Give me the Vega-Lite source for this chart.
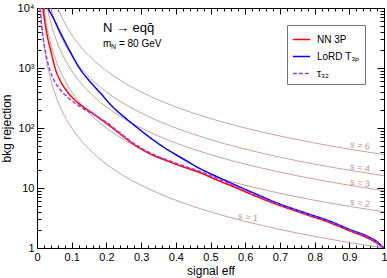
{
  "$schema": "https://vega.github.io/schema/vega-lite/v6.json",
  "width": 347,
  "height": 240,
  "autosize": "none",
  "padding": {"left": 37, "top": 8, "right": 3, "bottom": 30},
  "background": "white",
  "config": {
    "view": {"stroke": "black", "strokeWidth": 1},
    "font": "Liberation Sans",
    "axis": {"grid": false, "domain": false, "tickColor": "black", "tickWidth": 1, "labelFont": "Liberation Sans", "titleFont": "Liberation Sans", "titleFontWeight": "normal", "labelColor": "black", "titleColor": "black", "labelFlush": false, "labelOverlap": false}
  },
  "datasets": {
    "scurves": [
      {"s": 1, "x": 0.01, "r": 10000}, {"s": 1, "x": 0.012, "r": 6944}, {"s": 1, "x": 0.015, "r": 4444}, {"s": 1, "x": 0.02, "r": 2500}, {"s": 1, "x": 0.025, "r": 1600}, {"s": 1, "x": 0.03, "r": 1111}, {"s": 1, "x": 0.04, "r": 625}, {"s": 1, "x": 0.05, "r": 400}, {"s": 1, "x": 0.06, "r": 277.8}, {"s": 1, "x": 0.07, "r": 204.1}, {"s": 1, "x": 0.08, "r": 156.3}, {"s": 1, "x": 0.1, "r": 100}, {"s": 1, "x": 0.12, "r": 69.44}, {"s": 1, "x": 0.15, "r": 44.44}, {"s": 1, "x": 0.2, "r": 25}, {"s": 1, "x": 0.25, "r": 16}, {"s": 1, "x": 0.3, "r": 11.11}, {"s": 1, "x": 0.35, "r": 8.163}, {"s": 1, "x": 0.4, "r": 6.25}, {"s": 1, "x": 0.5, "r": 4}, {"s": 1, "x": 0.6, "r": 2.778}, {"s": 1, "x": 0.7, "r": 2.041}, {"s": 1, "x": 0.8, "r": 1.5625}, {"s": 1, "x": 0.9, "r": 1.235}, {"s": 1, "x": 1, "r": 1},
      {"s": 2, "x": 0.02, "r": 10000}, {"s": 2, "x": 0.024, "r": 6944}, {"s": 2, "x": 0.03, "r": 4444}, {"s": 2, "x": 0.04, "r": 2500}, {"s": 2, "x": 0.05, "r": 1600}, {"s": 2, "x": 0.06, "r": 1111}, {"s": 2, "x": 0.08, "r": 625}, {"s": 2, "x": 0.1, "r": 400}, {"s": 2, "x": 0.12, "r": 277.8}, {"s": 2, "x": 0.14, "r": 204.1}, {"s": 2, "x": 0.16, "r": 156.3}, {"s": 2, "x": 0.2, "r": 100}, {"s": 2, "x": 0.24, "r": 69.44}, {"s": 2, "x": 0.3, "r": 44.44}, {"s": 2, "x": 0.4, "r": 25}, {"s": 2, "x": 0.5, "r": 16}, {"s": 2, "x": 0.6, "r": 11.11}, {"s": 2, "x": 0.7, "r": 8.163}, {"s": 2, "x": 0.8, "r": 6.25}, {"s": 2, "x": 0.9, "r": 4.938}, {"s": 2, "x": 1, "r": 4},
      {"s": 3, "x": 0.03, "r": 10000}, {"s": 3, "x": 0.036, "r": 6944}, {"s": 3, "x": 0.045, "r": 4444}, {"s": 3, "x": 0.06, "r": 2500}, {"s": 3, "x": 0.075, "r": 1600}, {"s": 3, "x": 0.09, "r": 1111}, {"s": 3, "x": 0.12, "r": 625}, {"s": 3, "x": 0.15, "r": 400}, {"s": 3, "x": 0.18, "r": 277.8}, {"s": 3, "x": 0.21, "r": 204.1}, {"s": 3, "x": 0.24, "r": 156.3}, {"s": 3, "x": 0.3, "r": 100}, {"s": 3, "x": 0.36, "r": 69.44}, {"s": 3, "x": 0.45, "r": 44.44}, {"s": 3, "x": 0.525, "r": 32.65}, {"s": 3, "x": 0.6, "r": 25}, {"s": 3, "x": 0.7, "r": 18.37}, {"s": 3, "x": 0.8, "r": 14.06}, {"s": 3, "x": 0.9, "r": 11.11}, {"s": 3, "x": 1, "r": 9},
      {"s": 4, "x": 0.04, "r": 10000}, {"s": 4, "x": 0.048, "r": 6944}, {"s": 4, "x": 0.06, "r": 4444}, {"s": 4, "x": 0.08, "r": 2500}, {"s": 4, "x": 0.1, "r": 1600}, {"s": 4, "x": 0.12, "r": 1111}, {"s": 4, "x": 0.16, "r": 625}, {"s": 4, "x": 0.2, "r": 400}, {"s": 4, "x": 0.24, "r": 277.8}, {"s": 4, "x": 0.28, "r": 204.1}, {"s": 4, "x": 0.32, "r": 156.3}, {"s": 4, "x": 0.4, "r": 100}, {"s": 4, "x": 0.48, "r": 69.44}, {"s": 4, "x": 0.6, "r": 44.44}, {"s": 4, "x": 0.7, "r": 32.65}, {"s": 4, "x": 0.8, "r": 25}, {"s": 4, "x": 0.9, "r": 19.75}, {"s": 4, "x": 1, "r": 16},
      {"s": 6, "x": 0.06, "r": 10000}, {"s": 6, "x": 0.072, "r": 6944}, {"s": 6, "x": 0.09, "r": 4444}, {"s": 6, "x": 0.12, "r": 2500}, {"s": 6, "x": 0.15, "r": 1600}, {"s": 6, "x": 0.18, "r": 1111}, {"s": 6, "x": 0.24, "r": 625}, {"s": 6, "x": 0.3, "r": 400}, {"s": 6, "x": 0.36, "r": 277.8}, {"s": 6, "x": 0.42, "r": 204.1}, {"s": 6, "x": 0.48, "r": 156.3}, {"s": 6, "x": 0.6, "r": 100}, {"s": 6, "x": 0.72, "r": 69.44}, {"s": 6, "x": 0.8, "r": 56.25}, {"s": 6, "x": 0.9, "r": 44.44}, {"s": 6, "x": 1, "r": 36}
    ],
    "curves": [
      {"m": "NN 3P", "x": 0.017, "r": 10000}, {"m": "NN 3P", "x": 0.028, "r": 3800}, {"m": "NN 3P", "x": 0.04, "r": 1900}, {"m": "NN 3P", "x": 0.052, "r": 1000}, {"m": "NN 3P", "x": 0.066, "r": 630}, {"m": "NN 3P", "x": 0.086, "r": 413}, {"m": "NN 3P", "x": 0.119, "r": 260}, {"m": "NN 3P", "x": 0.138, "r": 215}, {"m": "NN 3P", "x": 0.167, "r": 165}, {"m": "NN 3P", "x": 0.185, "r": 138}, {"m": "NN 3P", "x": 0.21, "r": 108}, {"m": "NN 3P", "x": 0.23, "r": 88}, {"m": "NN 3P", "x": 0.278, "r": 54}, {"m": "NN 3P", "x": 0.33, "r": 36}, {"m": "NN 3P", "x": 0.374, "r": 28.5}, {"m": "NN 3P", "x": 0.412, "r": 23.5}, {"m": "NN 3P", "x": 0.47, "r": 18}, {"m": "NN 3P", "x": 0.518, "r": 13.6}, {"m": "NN 3P", "x": 0.57, "r": 10.3}, {"m": "NN 3P", "x": 0.623, "r": 7.6}, {"m": "NN 3P", "x": 0.7, "r": 5.1}, {"m": "NN 3P", "x": 0.77, "r": 3.7}, {"m": "NN 3P", "x": 0.844, "r": 2.64}, {"m": "NN 3P", "x": 0.9, "r": 1.94}, {"m": "NN 3P", "x": 0.96, "r": 1.4}, {"m": "NN 3P", "x": 0.98, "r": 1.2}, {"m": "NN 3P", "x": 0.995, "r": 1.05}, {"m": "NN 3P", "x": 1, "r": 1},
      {"m": "LoRD T₃ₚ", "x": 0.031, "r": 10000}, {"m": "LoRD T₃ₚ", "x": 0.047, "r": 6800}, {"m": "LoRD T₃ₚ", "x": 0.068, "r": 3800}, {"m": "LoRD T₃ₚ", "x": 0.095, "r": 1900}, {"m": "LoRD T₃ₚ", "x": 0.122, "r": 1000}, {"m": "LoRD T₃ₚ", "x": 0.15, "r": 620}, {"m": "LoRD T₃ₚ", "x": 0.182, "r": 386}, {"m": "LoRD T₃ₚ", "x": 0.22, "r": 220}, {"m": "LoRD T₃ₚ", "x": 0.254, "r": 148}, {"m": "LoRD T₃ₚ", "x": 0.29, "r": 100}, {"m": "LoRD T₃ₚ", "x": 0.326, "r": 69}, {"m": "LoRD T₃ₚ", "x": 0.36, "r": 50}, {"m": "LoRD T₃ₚ", "x": 0.393, "r": 38}, {"m": "LoRD T₃ₚ", "x": 0.43, "r": 28.5}, {"m": "LoRD T₃ₚ", "x": 0.47, "r": 21}, {"m": "LoRD T₃ₚ", "x": 0.518, "r": 15.5}, {"m": "LoRD T₃ₚ", "x": 0.57, "r": 11.3}, {"m": "LoRD T₃ₚ", "x": 0.623, "r": 8.3}, {"m": "LoRD T₃ₚ", "x": 0.7, "r": 5.4}, {"m": "LoRD T₃ₚ", "x": 0.77, "r": 3.9}, {"m": "LoRD T₃ₚ", "x": 0.844, "r": 2.8}, {"m": "LoRD T₃ₚ", "x": 0.9, "r": 2.05}, {"m": "LoRD T₃ₚ", "x": 0.96, "r": 1.49}, {"m": "LoRD T₃ₚ", "x": 0.98, "r": 1.27}, {"m": "LoRD T₃ₚ", "x": 0.995, "r": 1.06}, {"m": "LoRD T₃ₚ", "x": 1, "r": 1},
      {"m": "τ₃₂", "x": 0.008, "r": 10000}, {"m": "τ₃₂", "x": 0.016, "r": 3800}, {"m": "τ₃₂", "x": 0.03, "r": 1300}, {"m": "τ₃₂", "x": 0.045, "r": 700}, {"m": "τ₃₂", "x": 0.065, "r": 450}, {"m": "τ₃₂", "x": 0.09, "r": 320}, {"m": "τ₃₂", "x": 0.12, "r": 235}, {"m": "τ₃₂", "x": 0.145, "r": 192}, {"m": "τ₃₂", "x": 0.167, "r": 164}, {"m": "τ₃₂", "x": 0.2, "r": 124}, {"m": "τ₃₂", "x": 0.23, "r": 91}, {"m": "τ₃₂", "x": 0.278, "r": 56}, {"m": "τ₃₂", "x": 0.33, "r": 37.5}, {"m": "τ₃₂", "x": 0.374, "r": 29.5}, {"m": "τ₃₂", "x": 0.412, "r": 24.5}, {"m": "τ₃₂", "x": 0.47, "r": 18.8}, {"m": "τ₃₂", "x": 0.518, "r": 14.5}, {"m": "τ₃₂", "x": 0.57, "r": 10.9}, {"m": "τ₃₂", "x": 0.623, "r": 8.0}, {"m": "τ₃₂", "x": 0.7, "r": 5.25}, {"m": "τ₃₂", "x": 0.77, "r": 3.8}, {"m": "τ₃₂", "x": 0.844, "r": 2.72}, {"m": "τ₃₂", "x": 0.9, "r": 2.0}, {"m": "τ₃₂", "x": 0.96, "r": 1.45}, {"m": "τ₃₂", "x": 0.98, "r": 1.24}, {"m": "τ₃₂", "x": 0.995, "r": 1.05}, {"m": "τ₃₂", "x": 1, "r": 1}
    ],
    "slabels": [
      {"t": "s = 6", "x": 0.931, "r": 51.4},
      {"t": "s = 4", "x": 0.931, "r": 21.9},
      {"t": "s = 3", "x": 0.931, "r": 12.2},
      {"t": "s = 2", "x": 0.931, "r": 5.65},
      {"t": "s = 1", "x": 0.608, "r": 3.27}
    ],
    "title1": [{"t": "N → eqq̄", "x": 0.19, "r": 4640}],
    "title2": [{"t": "m", "x": 0.19, "r": 2512}]
  },
  "layer": [
    {
      "data": {"name": "scurves"},
      "mark": {"type": "line", "color": "#c9a2a2", "strokeWidth": 1, "interpolate": "monotone", "clip": true},
      "encoding": {
        "x": {"field": "x", "type": "quantitative", "scale": {"domain": [0, 1], "nice": false, "zero": false},
          "axis": {"orient": "bottom", "values": [0, 0.1, 0.2, 0.3, 0.4, 0.5, 0.6, 0.7, 0.8, 0.9, 1], "labelExpr": "datum.value == 0 ? '0' : datum.value == 1 ? '1' : format(datum.value, '.1f')", "tickSize": -6, "labelPadding": 9, "labelFontSize": 11, "title": "signal eff", "titleFontSize": 12, "titlePadding": 3}},
        "y": {"field": "r", "type": "quantitative", "scale": {"type": "log", "domain": [1, 10000], "nice": false},
          "axis": {"orient": "left", "values": [1, 10, 100, 1000, 10000], "labelExpr": "datum.value == 1 ? '1' : datum.value == 10 ? '10' : datum.value == 100 ? '10²' : datum.value == 1000 ? '10³' : '10⁴'", "tickSize": -7, "labelPadding": 10, "labelFontSize": 11, "title": "bkg rejection", "titleFontSize": 12, "titlePadding": 4}},
        "detail": {"field": "s", "type": "nominal"}
      }
    },
    {
      "data": {"name": "curves"},
      "mark": {"type": "line", "strokeWidth": 1.5, "interpolate": "monotone", "clip": true},
      "encoding": {
        "x": {"field": "x", "type": "quantitative", "scale": {"domain": [0, 1], "nice": false, "zero": false},
          "axis": {"orient": "bottom", "values": [0.02, 0.04, 0.06, 0.08, 0.12, 0.14, 0.16, 0.18, 0.22, 0.24, 0.26, 0.28, 0.32, 0.34, 0.36, 0.38, 0.42, 0.44, 0.46, 0.48, 0.52, 0.54, 0.56, 0.58, 0.62, 0.64, 0.66, 0.68, 0.72, 0.74, 0.76, 0.78, 0.82, 0.84, 0.86, 0.88, 0.92, 0.94, 0.96, 0.98], "labels": false, "tickSize": -3, "title": null}},
        "y": {"field": "r", "type": "quantitative", "scale": {"type": "log", "domain": [1, 10000], "nice": false},
          "axis": {"orient": "left", "values": [2, 3, 4, 5, 6, 7, 8, 9, 20, 30, 40, 50, 60, 70, 80, 90, 200, 300, 400, 500, 600, 700, 800, 900, 2000, 3000, 4000, 5000, 6000, 7000, 8000, 9000], "labels": false, "tickSize": -4, "title": null}},
        "color": {"field": "m", "type": "nominal", "scale": {"domain": ["NN 3P", "LoRD T₃ₚ", "τ₃₂"], "range": ["#ff0000", "#0000ff", "#a03ce8"]},
          "legend": {"orient": "none", "legendX": 250, "legendY": 17, "title": null, "symbolType": "stroke", "symbolSize": 300, "symbolStrokeWidth": 1.5, "labelFontSize": 10, "labelFont": "Liberation Sans", "labelColor": "black", "strokeColor": "#777777", "fillColor": "white", "padding": 5, "rowPadding": 2, "labelOffset": 6}},
        "strokeDash": {"field": "m", "type": "nominal", "scale": {"domain": ["NN 3P", "LoRD T₃ₚ", "τ₃₂"], "range": [[1, 0], [1, 0], [4, 2]]},
          "legend": {"orient": "none", "legendX": 250, "legendY": 17, "title": null, "symbolType": "stroke", "symbolSize": 300, "symbolStrokeWidth": 1.5, "labelFontSize": 10, "labelFont": "Liberation Sans", "labelColor": "black", "strokeColor": "#777777", "fillColor": "white", "padding": 5, "rowPadding": 2, "labelOffset": 6}}
      }
    },
    {
      "data": {"name": "slabels"},
      "mark": {"type": "text", "color": "#c09494", "fontSize": 9, "angle": 8, "font": "Liberation Sans"},
      "encoding": {
        "x": {"field": "x", "type": "quantitative", "scale": {"domain": [0, 1], "nice": false, "zero": false},
          "axis": {"orient": "top", "values": [0, 0.1, 0.2, 0.3, 0.4, 0.5, 0.6, 0.7, 0.8, 0.9, 1], "labels": false, "tickSize": -6, "title": null}},
        "y": {"field": "r", "type": "quantitative", "scale": {"type": "log", "domain": [1, 10000], "nice": false},
          "axis": {"orient": "right", "values": [1, 10, 100, 1000, 10000], "labels": false, "tickSize": -7, "title": null}},
        "text": {"field": "t", "type": "nominal"}
      }
    },
    {
      "data": {"name": "title1"},
      "mark": {"type": "text", "color": "black", "fontSize": 13, "align": "left", "font": "Liberation Sans"},
      "encoding": {
        "x": {"field": "x", "type": "quantitative", "scale": {"domain": [0, 1], "nice": false, "zero": false},
          "axis": {"orient": "top", "values": [0.02, 0.04, 0.06, 0.08, 0.12, 0.14, 0.16, 0.18, 0.22, 0.24, 0.26, 0.28, 0.32, 0.34, 0.36, 0.38, 0.42, 0.44, 0.46, 0.48, 0.52, 0.54, 0.56, 0.58, 0.62, 0.64, 0.66, 0.68, 0.72, 0.74, 0.76, 0.78, 0.82, 0.84, 0.86, 0.88, 0.92, 0.94, 0.96, 0.98], "labels": false, "tickSize": -3, "title": null}},
        "y": {"field": "r", "type": "quantitative", "scale": {"type": "log", "domain": [1, 10000], "nice": false},
          "axis": {"orient": "right", "values": [2, 3, 4, 5, 6, 7, 8, 9, 20, 30, 40, 50, 60, 70, 80, 90, 200, 300, 400, 500, 600, 700, 800, 900, 2000, 3000, 4000, 5000, 6000, 7000, 8000, 9000], "labels": false, "tickSize": -4, "title": null}},
        "text": {"field": "t", "type": "nominal"}
      }
    },
    {
      "data": {"name": "title2"},
      "mark": {"type": "text", "color": "black", "fontSize": 10, "align": "left", "font": "Liberation Sans"},
      "encoding": {
        "x": {"field": "x", "type": "quantitative", "scale": {"domain": [0, 1], "nice": false, "zero": false}, "axis": null},
        "y": {"field": "r", "type": "quantitative", "scale": {"type": "log", "domain": [1, 10000], "nice": false}, "axis": null},
        "text": {"field": "t", "type": "nominal"}
      }
    },
    {
      "data": {"name": "title2"},
      "mark": {"type": "text", "color": "black", "fontSize": 7, "align": "left", "dx": 8, "dy": 3, "font": "Liberation Sans"},
      "encoding": {
        "x": {"field": "x", "type": "quantitative", "scale": {"domain": [0, 1], "nice": false, "zero": false}, "axis": null},
        "y": {"field": "r", "type": "quantitative", "scale": {"type": "log", "domain": [1, 10000], "nice": false}, "axis": null},
        "text": {"value": "N"}
      }
    },
    {
      "data": {"name": "title2"},
      "mark": {"type": "text", "color": "black", "fontSize": 10, "align": "left", "dx": 16, "font": "Liberation Sans"},
      "encoding": {
        "x": {"field": "x", "type": "quantitative", "scale": {"domain": [0, 1], "nice": false, "zero": false}, "axis": null},
        "y": {"field": "r", "type": "quantitative", "scale": {"type": "log", "domain": [1, 10000], "nice": false}, "axis": null},
        "text": {"value": "= 80 GeV"}
      }
    }
  ],
  "resolve": {"axis": {"x": "independent", "y": "independent"}}
}
